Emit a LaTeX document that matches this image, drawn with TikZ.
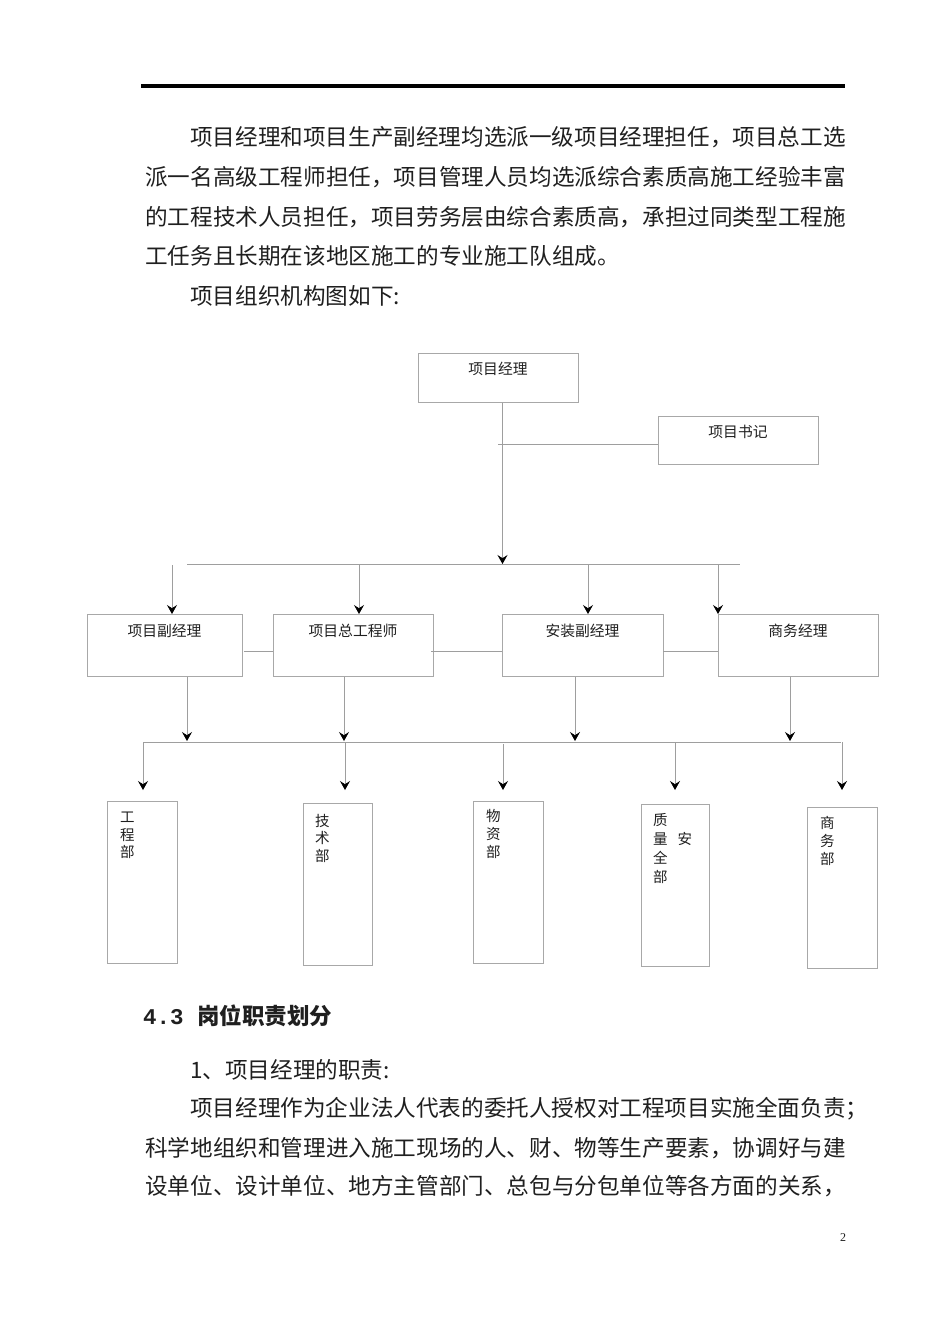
\documentclass[tikz,border=0pt]{standalone}
\usepackage{fontspec}
\setmainfont{Liberation Serif}
\setmonofont{Liberation Mono}
\newfontfamily\cjk{Noto Sans CJK SC}
\usetikzlibrary{arrows.meta,calc}
\definecolor{txt}{gray}{0.12}
\definecolor{linegray}{gray}{0.62}
\definecolor{boxgray}{gray}{0.66}
\begin{document}
\begin{tikzpicture}[x=1pt,y=-1pt,
  line/.style={draw=linegray,line width=0.9pt},
  arr/.style={line,-{Stealth[black,length=9pt,width=10pt,inset=3.2pt,line width=0.8pt]}},
  ptext/.style={anchor=west,inner sep=0pt,text=txt,font=\cjk\fontsize{22.6}{26}\selectfont},
  box/.style={draw=boxgray,line width=0.9pt,inner sep=0pt,anchor=north,text=txt,font=\cjk\fontsize{14.8}{16}\selectfont},
  boxA/.style={box,text height=21.5pt,text depth=27.5pt},
  boxB/.style={box,text height=22.5pt,text depth=39.5pt},
  dept/.style={draw=boxgray,line width=0.9pt,inner sep=0pt,anchor=north west,minimum height=162pt},
  vtext/.style={anchor=north west,inner sep=0pt,align=left,text=txt,font=\cjk\fontsize{14.5}{18}\selectfont}]
\useasboundingbox (0,0) rectangle (950,1344);

% header rule
\fill[black] (141,84) rectangle (845,88);

% intro paragraph
\node[ptext] (p1) at (190,137) {项目经理和项目生产副经理均选派一级项目经理担任，项目总工选};
\node[ptext] (p2) at (145,177) {派一名高级工程师担任，项目管理人员均选派综合素质高施工经验丰富};
\node[ptext] (p3) at (145,217) {的工程技术人员担任，项目劳务层由综合素质高，承担过同类型工程施};
\node[ptext] (p4) at (145,256) {工任务且长期在该地区施工的专业施工队组成。};
\node[ptext] (p5) at (190,296) {项目组织机构图如下:};

% level 0
\node[boxA,minimum width=160pt] (pm) at (498,353) {项目经理};
\node[boxA,text depth=26.5pt,minimum width=160pt] (sec) at (738,416) {项目书记};

% level 1
\node[boxB,minimum width=155pt] (pd) at (164.5,614) {项目副经理};
\node[boxB,minimum width=160pt] (ce) at (353,614) {项目总工程师};
\node[boxB,minimum width=161pt] (ad) at (582.5,614) {安装副经理};
\node[boxB,minimum width=160pt] (bm) at (798,614) {商务经理};

% level 2 departments
\node[dept,minimum width=70pt] (d1) at (107,801) {};
\node[dept,minimum width=69pt] (d2) at (303,803) {};
\node[dept,minimum width=70pt] (d3) at (473,801) {};
\node[dept,minimum width=68pt] (d4) at (641,804) {};
\node[dept,minimum width=70pt,minimum height=161pt] (d5) at (807,807) {};
\node[vtext,font=\cjk\fontsize{14.5}{17.5}\selectfont] (t1) at (120,812) {工\\程\\部};
\node[vtext,font=\cjk\fontsize{14.5}{17.5}\selectfont] (t2) at (315,814) {技\\术\\部};
\node[vtext] (t3) at (486,809) {物\\资\\部};
\node[vtext,font=\cjk\fontsize{14.5}{19}\selectfont] (t4) at (653,813) {质\\量\hspace{10pt}安\\全\\部};
\node[vtext] (t5) at (820,816) {商\\务\\部};

% columns and buses
\coordinate (b1L) at (187,564);
\coordinate (b1R) at (740,564);
\coordinate (b2L) at (143,742);
\coordinate (b2R) at (841,742);
\coordinate (tipA) at (0,741);
\coordinate (tipB) at (0,790);

% manager to bus 1
\draw[arr] ($(pm.south)+(4.5,0)$) coordinate (pmv) -- (pmv |- b1L);
\coordinate (sj) at (498,444);
\draw[line] (sj) -- (sj -| sec.west);
\draw[line] (b1L) -- (b1R);

% bus 1 to level 1
\coordinate (c1) at (172,565);
\coordinate (c2) at (359,564);
\coordinate (c3) at (588,564);
\coordinate (c4) at (718,564);
\draw[arr] (c1) -- (c1 |- pd.north);
\draw[arr] (c2) -- (c2 |- ce.north);
\draw[arr] (c3) -- (c3 |- ad.north);
\draw[arr] (c4) -- (c4 |- bm.north);

% links between level 1 boxes
\draw[line] ($(pd.east)+(2,6)$) -- ($(ce.west)+(0,6)$);
\draw[line] ($(ce.east)+(-2,6)$) -- ($(ad.west)+(0,6)$);
\draw[line] ($(ad.east)+(0,6)$) -- ($(bm.west)+(0,6)$);

% level 1 to bus 2
\coordinate (e1) at (187,0);
\coordinate (e2) at (344,0);
\coordinate (e3) at (575,0);
\coordinate (e4) at (790,0);
\draw[arr] (pd.south -| e1) -- (e1 |- tipA);
\draw[arr] (ce.south -| e2) -- (e2 |- tipA);
\draw[arr] (ad.south -| e3) -- (e3 |- tipA);
\draw[arr] (bm.south -| e4) -- (e4 |- tipA);
\draw[line] (b2L) -- (b2R);

% bus 2 to departments
\coordinate (f1) at (143,742);
\coordinate (f2) at (345,742);
\coordinate (f3) at (503,744);
\coordinate (f4) at (675,742);
\coordinate (f5) at (842,742);
\draw[arr] (f1) -- (f1 |- tipB);
\draw[arr] (f2) -- (f2 |- tipB);
\draw[arr] (f3) -- (f3 |- tipB);
\draw[arr] (f4) -- (f4 |- tipB);
\draw[arr] (f5) -- (f5 |- tipB);

% section text
\node[anchor=west,inner sep=0pt,text=txt] (h43) at (143,1016)
  {{\ttfamily\bfseries\fontsize{22.5}{26}\selectfont 4.3 }{\cjk\bfseries\fontsize{22.5}{26}\selectfont 岗位职责划分}};
\node[ptext] (q1) at (190,1070) {1、项目经理的职责:};
\node[ptext] (q2) at (190,1109) {项目经理作为企业法人代表的委托人授权对工程项目实施全面负责；};
\node[ptext] (q3) at (145,1148) {科学地组织和管理进入施工现场的人、财、物等生产要素，协调好与建};
\node[ptext] (q4) at (145,1186) {设单位、设计单位、地方主管部门、总包与分包单位等各方面的关系，};

% page number
\node[inner sep=0pt,text=txt,font=\fontsize{12}{14}\selectfont] (pg) at (843,1238) {2};
\end{tikzpicture}
\end{document}
